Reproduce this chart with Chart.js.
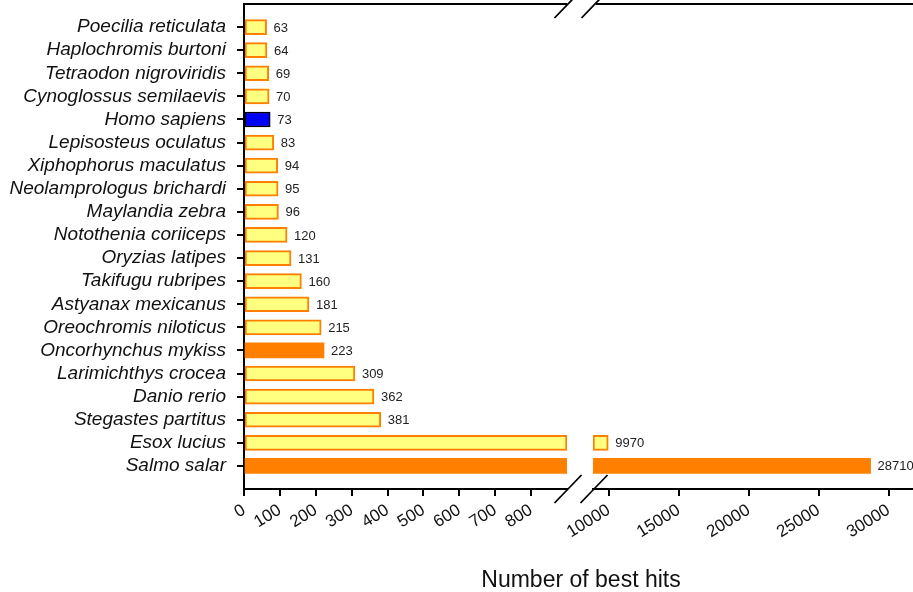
<!DOCTYPE html>
<html>
<head>
<meta charset="utf-8">
<script src="https://cdn.jsdelivr.net/npm/chart.js@4"></script>
<style>
  html, body { margin: 0; padding: 0; background: #fff; overflow: hidden; }
  #wrap { position: relative; width: 913px; height: 592px; }
  canvas { position: absolute; left: 0; top: 0; }
</style>
</head>
<body>
<div id="wrap">
  <canvas id="left" width="913" height="592"></canvas>
  <canvas id="right" width="913" height="592"></canvas>
</div>
<script>
// ---- data ----
const species = [
  "Poecilia reticulata", "Haplochromis burtoni", "Tetraodon nigroviridis",
  "Cynoglossus semilaevis", "Homo sapiens", "Lepisosteus oculatus",
  "Xiphophorus maculatus", "Neolamprologus brichardi", "Maylandia zebra",
  "Notothenia coriiceps", "Oryzias latipes", "Takifugu rubripes",
  "Astyanax mexicanus", "Oreochromis niloticus", "Oncorhynchus mykiss",
  "Larimichthys crocea", "Danio rerio", "Stegastes partitus",
  "Esox lucius", "Salmo salar"
];
const bestHits = [63, 64, 69, 70, 73, 83, 94, 95, 96, 120, 131, 160, 181, 215, 223, 309, 362, 381, 9970, 28710];
// bar style group per species: 0 = other fish, 1 = salmonid, 2 = human
const group = [0,0,0,0,2,0,0,0,0,0,0,0,0,0,1,0,0,0,0,1];
const leftTicks = [0, 100, 200, 300, 400, 500, 600, 700, 800];
const rightTicks = [10000, 15000, 20000, 25000, 30000];
const leftRange = [0, 900];
const rightRange = [8880, 31740];
const axisTitle = "Number of best hits";

// ---- styles ----
const fills = ["#FFFF80", "#FF8000", "#0000FF"];
const borders = ["#FF8000", "#FF8000", "#000000"];
const borderW = [2, 0, 1.5];
const FONT = '"Liberation Sans", Arial, sans-serif';

const TOP = 4, BOTTOM_H = 103, LEFT_W = 244, LEFT_END = 567, RIGHT_START = 593;

function points(isLeft) {
  return bestHits.map((v, i) => {
    if (isLeft) return { x: Math.min(v, leftRange[1]), y: i };
    return { x: v > rightRange[0] ? [rightRange[0], v] : null, y: i };
  });
}

const labelPlugin = (minShow, maxShow) => ({
  id: 'vlabels',
  afterDatasetsDraw(chart) {
    const ctx = chart.ctx;
    const xs = chart.scales.x, ys = chart.scales.y;
    ctx.save();
    ctx.font = '13px ' + FONT;
    ctx.fillStyle = '#222';
    ctx.textBaseline = 'middle';
    ctx.textAlign = 'left';
    bestHits.forEach((v, i) => {
      if (v < minShow || v > maxShow) return;
      const x = xs.getPixelForValue(v) + 7;
      const y = ys.getPixelForValue(i);
      ctx.fillText(String(v), x, y + 1);
    });
    ctx.restore();
  }
});

function slash(ctx, cx, cy) {
  ctx.beginPath();
  ctx.moveTo(cx - 13.5, cy + 14);
  ctx.lineTo(cx + 13.5, cy - 14);
  ctx.stroke();
}

const framePlugin = (side) => ({
  id: 'frame',
  afterDraw(chart) {
    const ctx = chart.ctx;
    const a = chart.chartArea;
    ctx.save();
    ctx.strokeStyle = '#000';
    ctx.lineWidth = 2;
    ctx.beginPath();
    if (side === 'left') { ctx.moveTo(a.left, a.top); ctx.lineTo(a.right, a.top); }
    else { ctx.moveTo(a.left + 3, a.top); ctx.lineTo(a.right, a.top); }
    ctx.stroke();
    ctx.lineWidth = 1.8;
    if (side === 'left') {
      slash(ctx, a.right + 1, a.top);
      slash(ctx, a.right + 1, a.bottom);
      ctx.font = '23px ' + FONT;
      ctx.fillStyle = '#111';
      ctx.textAlign = 'center';
      ctx.textBaseline = 'alphabetic';
      ctx.fillText(axisTitle, 581, 587);
    } else {
      slash(ctx, a.left + 2, a.top);
      slash(ctx, a.left + 1, a.bottom);
    }
    ctx.restore();
  }
});

function makeChart(id, side) {
  const isLeft = side === 'left';
  const range = isLeft ? leftRange : rightRange;
  const ticks = isLeft ? leftTicks : rightTicks;
  return new Chart(document.getElementById(id), {
    type: 'bar',
    data: {
      datasets: [{
        data: points(isLeft),
        backgroundColor: group.map(g => fills[g]),
        borderColor: group.map(g => borders[g]),
        borderWidth: group.map(g => borderW[g]),
        borderSkipped: false,
        barThickness: 15
      }]
    },
    options: {
      indexAxis: 'y',
      responsive: false,
      animation: false,
      events: [],
      layout: { padding: isLeft ? { left: 0, top: TOP, right: 913 - LEFT_END, bottom: 0 }
                                : { left: RIGHT_START, top: TOP, right: 0, bottom: 0 } },
      plugins: { legend: { display: false }, tooltip: { enabled: false }, title: { display: false } },
      scales: {
        x: {
          type: 'linear',
          position: 'bottom',
          offset: false,
          min: range[0], max: range[1],
          afterBuildTicks: s => { s.ticks = ticks.map(v => ({ value: v })); },
          afterFit: s => { s.height = BOTTOM_H; s.paddingLeft = 0; s.paddingRight = 0; },
          border: { display: true, color: '#000', width: 2 },
          grid: { offset: false, drawOnChartArea: false, drawTicks: true, tickLength: 7, color: '#000', lineWidth: 2 },
          ticks: {
            autoSkip: false,
            minRotation: 32, maxRotation: 32, padding: 4, color: '#111',
            font: { family: FONT, size: 17 },
            callback: v => String(v)
          }
        },
        y: {
          type: 'linear',
          display: isLeft,
          reverse: true,
          offset: false,
          min: -1, max: species.length,
          afterBuildTicks: s => { s.ticks = species.map((_, i) => ({ value: i })); },
          afterFit: s => { if (isLeft) s.width = LEFT_W; s.paddingTop = 0; s.paddingBottom = 0; },
          border: { display: isLeft, color: '#000', width: 2 },
          grid: { offset: false, drawOnChartArea: false, drawTicks: true, tickLength: 7, color: '#000', lineWidth: 2 },
          ticks: {
            autoSkip: false,
            padding: 11, color: '#111',
            font: { family: FONT, size: 19, style: 'italic' },
            callback: v => species[v] || ''
          }
        }
      }
    },
    plugins: [labelPlugin(isLeft ? -Infinity : rightRange[0], isLeft ? leftRange[1] : Infinity), framePlugin(side)]
  });
}

makeChart('left', 'left');
makeChart('right', 'right');
</script>
</body>
</html>
